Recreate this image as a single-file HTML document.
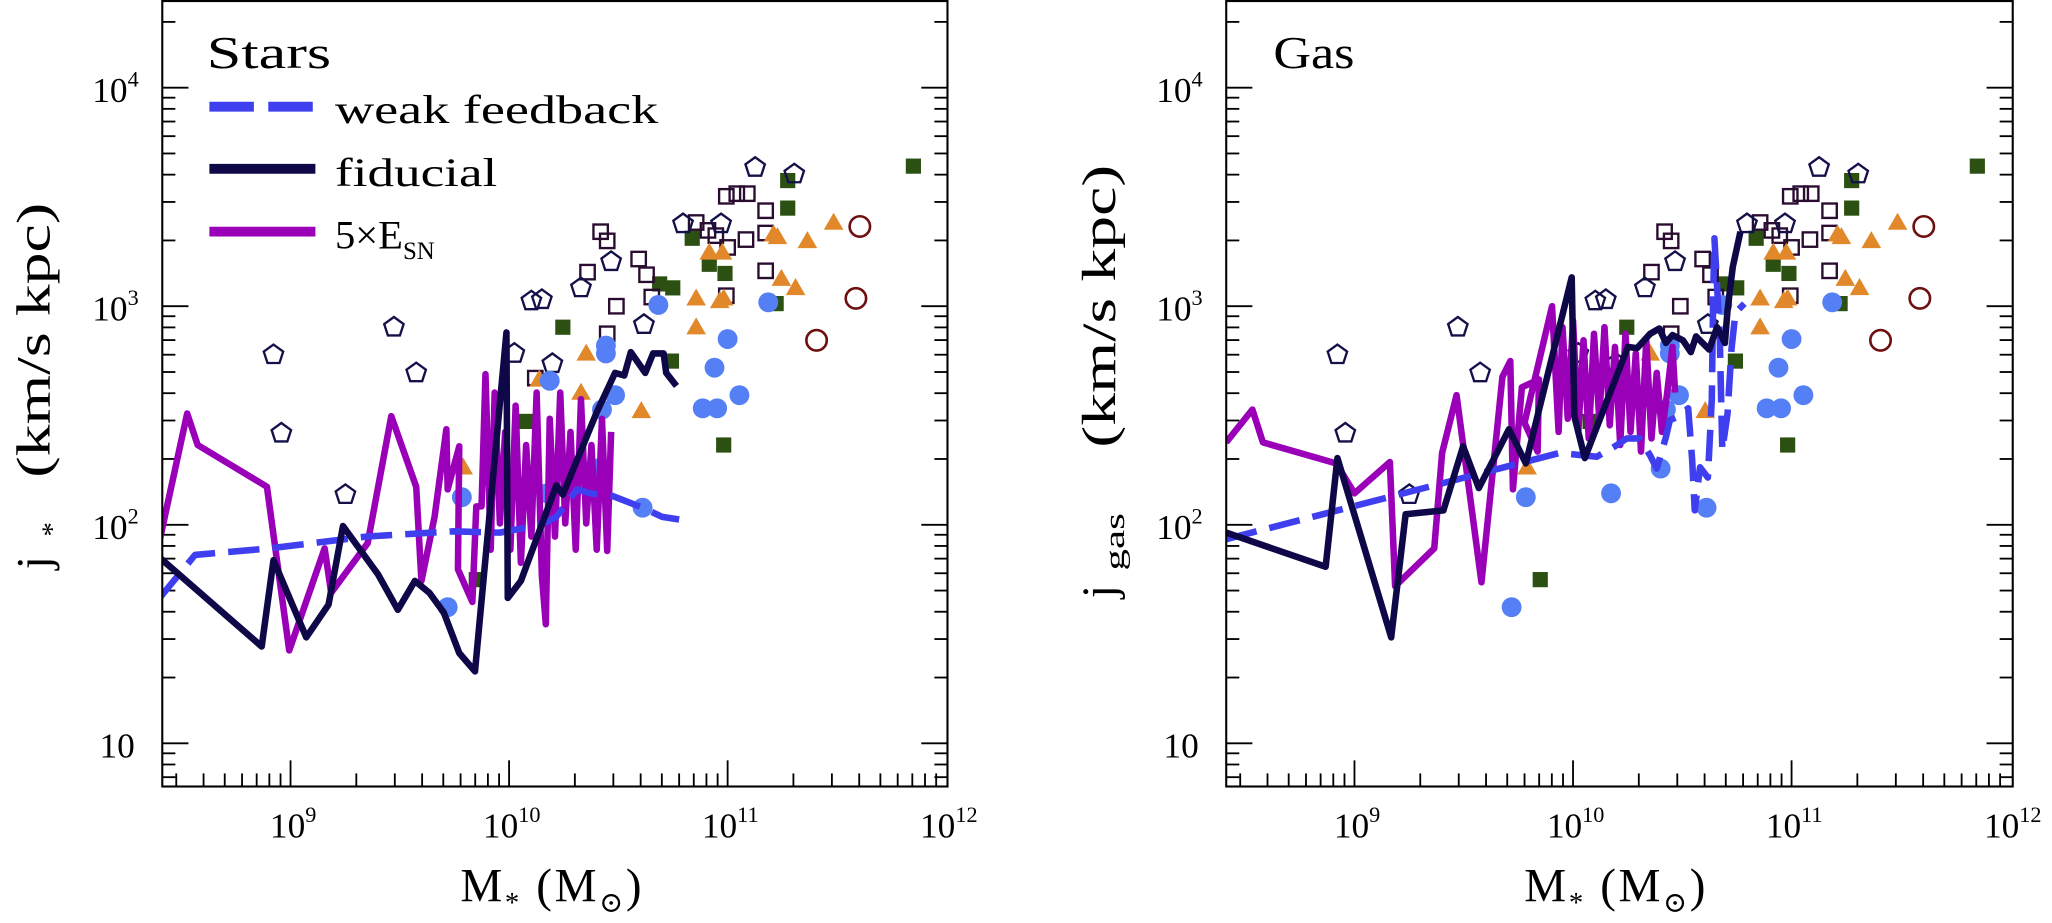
<!DOCTYPE html>
<html><head><meta charset="utf-8"><style>
html,body{margin:0;padding:0;background:#fff;}
svg{display:block;}
text{font-family:"Liberation Serif","DejaVu Serif",serif;fill:#000;}
</style></head><body>
<svg id="chart" xmlns="http://www.w3.org/2000/svg" width="2052" height="923" viewBox="0 0 1568 705.3">
<defs>
<clipPath id="clipL"><rect x="124" y="0" width="600" height="601"/></clipPath>
<clipPath id="clipR"><rect x="937" y="0" width="601" height="601"/></clipPath>
</defs>
<g id="axes"></g>
<g id="marks"></g>
<rect x="124" y="0.8" width="600" height="600.2" fill="none" stroke="#000" stroke-width="1.6"/>
<rect x="937" y="0.8" width="601" height="600.2" fill="none" stroke="#000" stroke-width="1.6"/>
<g>
<text x="158" y="52" font-size="35" textLength="95" lengthAdjust="spacingAndGlyphs">Stars</text>
<line x1="160" y1="81.5" x2="241" y2="81.5" stroke="#3f3ff0" stroke-width="7.5" stroke-dasharray="34 11"/>
<text x="256" y="94" font-size="31" textLength="247" lengthAdjust="spacingAndGlyphs">weak feedback</text>
<line x1="160" y1="129" x2="241" y2="129" stroke="#0e0848" stroke-width="7.5"/>
<text x="256" y="142" font-size="31" textLength="124" lengthAdjust="spacingAndGlyphs">fiducial</text>
<line x1="160" y1="177" x2="241" y2="177" stroke="#9a00b8" stroke-width="7.5"/>
<text x="256" y="190" font-size="31">5×E<tspan font-size="19" dy="8">SN</tspan></text>
</g>
<text x="973" y="52" font-size="35" textLength="62" lengthAdjust="spacingAndGlyphs">Gas</text>
<g>
<text x="38" y="435" font-size="36" transform="rotate(-90 38 435)">j</text>
<text x="47" y="410" font-size="22" transform="rotate(-90 47 410)">*</text>
<text x="38" y="365" font-size="36" font-weight="normal" transform="rotate(-90 38 365)" textLength="210" lengthAdjust="spacingAndGlyphs">(km/s kpc)</text>
</g>
<g>
<text x="852" y="457" font-size="36" transform="rotate(-90 852 457)">j</text>
<text x="859" y="436" font-size="22" transform="rotate(-90 859 436)" textLength="44" lengthAdjust="spacingAndGlyphs">gas</text>
<text x="852" y="342" font-size="36" font-weight="normal" transform="rotate(-90 852 342)" textLength="216" lengthAdjust="spacingAndGlyphs">(km/s kpc)</text>
</g>
<text x="422" y="689" font-size="36" text-anchor="middle" letter-spacing="2">M<tspan font-size="22" dy="8">*</tspan><tspan dy="-8"> (M</tspan><tspan font-size="22" dy="8">⊙</tspan><tspan dy="-8">)</tspan></text>
<text x="1235" y="689" font-size="36" text-anchor="middle" letter-spacing="2">M<tspan font-size="22" dy="8">*</tspan><tspan dy="-8"> (M</tspan><tspan font-size="22" dy="8">⊙</tspan><tspan dy="-8">)</tspan></text>
</svg>
<script>
// ---- axis data ----
const xTickExps = [9, 10, 11, 12];
const yTickExps = [1, 2, 3, 4];
// ---- observational data (log10 M*, log10 j) ----
const pentLogM = [10.102,10.150,10.329,10.467,10.796,10.970,11.126,11.305,10.617,10.024,10.198,8.922,8.958,9.473,9.575,9.251];
const pentLogJ = [3.030,3.036,3.090,3.210,3.383,3.383,3.641,3.611,2.922,2.790,2.743,2.784,2.425,2.910,2.701,2.144];
const openSqLogM = [10.419,10.449,10.359,10.593,10.629,10.653,10.491,10.449,10.120,10.856,10.910,10.946,11.000,11.084,10.994,11.042,11.090,11.174,11.174,11.174,10.994];
const openSqLogJ = [3.341,3.299,3.156,3.216,3.144,3.042,3.000,2.874,2.671,3.383,3.347,3.323,3.269,3.305,3.503,3.515,3.515,3.437,3.335,3.162,3.048];
const greenLogM = [11.850,11.275,11.275,10.838,10.916,10.988,10.689,10.749,10.246,10.743,10.982,11.222,10.078,9.850];
const greenLogJ = [3.641,3.575,3.449,3.311,3.192,3.150,3.102,3.084,2.904,2.749,2.365,3.012,2.473,1.749];
const triLogM = [11.485,11.210,11.228,11.365,10.916,10.976,11.246,11.311,10.856,10.964,10.982,10.856,10.353,10.605,10.329,10.138,9.790];
const triLogJ = [3.383,3.329,3.317,3.299,3.246,3.246,3.126,3.084,3.036,3.024,3.036,2.904,2.784,2.521,2.605,2.665,2.263];
const redLogM = [11.605,11.587,11.407];
const redLogJ = [3.365,3.036,2.844];
const blueLogM = [10.683,11.186,11.000,10.443,10.443,10.940,10.186,10.485,11.054,10.886,10.952,10.425,10.401,10.174,10.611,9.784,9.719];
const blueLogJ = [3.006,3.018,2.850,2.820,2.784,2.719,2.659,2.593,2.593,2.533,2.533,2.527,2.257,2.144,2.078,2.126,1.623];
// ---- simulation tracks: stars ----
const starsWeakLogM = [8.401,8.563,8.904,9.347,9.743,9.958,10.144,10.216,10.311,10.371,10.473,10.611,10.701,10.778];
const starsWeakLogJ = [1.665,1.862,1.892,1.946,1.970,1.964,2.000,2.036,2.162,2.144,2.132,2.078,2.036,2.024];
const starsFidLogM = [8.401,8.868,8.922,9.072,9.174,9.240,9.401,9.491,9.569,9.635,9.701,9.772,9.844,9.988,9.994,10.054,10.216,10.246,10.401,10.485,10.527,10.557,10.623,10.659,10.707,10.719,10.766];
const starsFidLogJ = [1.850,1.443,1.838,1.485,1.635,1.994,1.772,1.611,1.743,1.689,1.599,1.413,1.329,2.880,1.665,1.743,2.180,2.138,2.515,2.695,2.683,2.790,2.695,2.784,2.784,2.695,2.635];
const starsEsnLogM = [8.401,8.527,8.575,8.892,8.994,9.156,9.186,9.353,9.461,9.575,9.599,9.659,9.713,9.719,9.772,9.766,9.832,9.850,9.874,9.892,9.916,9.934,9.958,9.982,10.006,10.030,10.054,10.078,10.102,10.126,10.150,10.168,10.186,10.210,10.234,10.257,10.281,10.305,10.329,10.353,10.377,10.401,10.425,10.449,10.467];
const starsEsnLogJ = [1.928,2.509,2.365,2.174,1.425,1.892,1.689,1.916,2.497,2.174,1.743,2.036,2.437,2.162,2.359,1.796,1.647,2.084,2.084,2.689,1.886,2.605,2.006,2.425,1.886,2.545,1.826,2.365,1.946,2.605,1.766,1.545,2.485,1.946,2.605,2.006,2.425,1.886,2.575,2.006,2.365,1.886,2.485,1.880,2.425];
// ---- simulation tracks: gas ----
const gasWeakLogM = [8.413,9.940,10.108,10.192,10.246,10.305,10.353,10.383,10.425,10.443,10.485,10.527,10.545,10.557,10.581,10.617,10.635,10.641,10.647,10.671,10.683,10.707,10.725,10.743,10.784];
const gasWeakLogJ = [1.934,2.329,2.311,2.359,2.395,2.395,2.317,2.257,2.401,2.479,2.497,2.533,2.299,2.066,2.263,2.216,2.575,3.030,3.311,2.880,2.341,2.509,2.802,2.970,3.012];
const gasFidLogM = [8.413,8.868,8.922,9.168,9.234,9.407,9.497,9.569,9.707,9.784,9.994,10.006,10.054,10.251,10.293,10.353,10.395,10.425,10.455,10.503,10.539,10.563,10.623,10.659,10.695,10.707,10.731,10.766];
const gasFidLogJ = [1.964,1.808,2.305,1.485,2.048,2.066,2.359,2.168,2.437,2.281,3.132,2.497,2.305,2.814,2.808,2.874,2.898,2.832,2.868,2.844,2.790,2.862,2.802,2.904,2.832,2.982,3.180,3.341];
const gasEsnLogM = [8.413,8.533,8.581,8.916,9.000,9.162,9.186,9.365,9.401,9.467,9.581,9.677,9.713,9.725,9.766,9.844,9.838,9.778,9.904,9.934,9.952,9.976,10.000,10.024,10.048,10.072,10.096,10.120,10.144,10.168,10.192,10.216,10.240,10.263,10.287,10.311,10.335,10.359,10.383,10.407,10.431,10.455,10.467];
const gasEsnLogJ = [2.377,2.527,2.377,2.281,2.144,2.287,1.719,1.892,2.329,2.593,1.737,2.677,2.749,2.162,2.629,2.665,2.335,2.467,3.000,2.425,2.904,2.485,2.934,2.425,2.844,2.395,2.874,2.485,2.904,2.455,2.814,2.365,2.874,2.425,2.784,2.335,2.844,2.395,2.695,2.425,2.605,2.814,2.605];

const NS = 'http://www.w3.org/2000/svg';
const X0 = 124, X1 = 724, Y0 = 0, Y1 = 601;
function xPos(lm, ox) { return ox + 222 + 167 * (lm - 9); }
function yPos(lj) { return 568 - 167 * (lj - 1); }
function make(tag, parent) { const e = document.createElementNS(NS, tag); parent.appendChild(e); return e; }

const axes = document.getElementById('axes');
const marks = document.getElementById('marks');
const panels = [{ ox: 0, clip: 'clipL', key: 'stars' }, { ox: 813, clip: 'clipR', key: 'gas' }];

panels.forEach(p => {
  const ox = p.ox;
  for (let d = 0; d <= 4; d++) {
    for (let m = 1; m <= 9; m++) {
      const lj = d + Math.log10(m);
      const y = yPos(lj);
      if (y < 2 || y > 600) continue;
      const len = m === 1 ? 20 : 10;
      const t1 = make('line', axes);
      
      
      t1.setAttribute('x1', X0 + ox); t1.setAttribute('x2', X0 + ox + len);
      t1.setAttribute('y1', y); t1.setAttribute('y2', y);
      t1.setAttribute('stroke', '#000'); t1.setAttribute('stroke-width', '1.4');
      const t2 = make('line', axes);
      
      
      t2.setAttribute('x1', X1 + ox + (ox ? 1 : 0)); t2.setAttribute('x2', X1 + ox + (ox ? 1 : 0) - len);
      t2.setAttribute('y1', y); t2.setAttribute('y2', y);
      t2.setAttribute('stroke', '#000'); t2.setAttribute('stroke-width', '1.4');
    }
  }
  for (let d = 8; d <= 11; d++) {
    for (let m = 1; m <= 9; m++) {
      const lm = d + Math.log10(m);
      const x = xPos(lm, ox);
      if (x < X0 + ox + 2 || x > X1 + ox) continue;
      const len = m === 1 ? 20 : 10;
      const t = make('line', axes);
      
      
      t.setAttribute('x1', x); t.setAttribute('x2', x);
      t.setAttribute('y1', Y1); t.setAttribute('y2', Y1 - len);
      t.setAttribute('stroke', '#000'); t.setAttribute('stroke-width', '1.4');
    }
  }
  yTickExps.forEach(e => {
    const tx = make('text', axes);
    
    
    tx.setAttribute('x', ox + (e === 1 ? 103 : 106));
    tx.setAttribute('y', yPos(e) + 11);
    tx.setAttribute('font-size', '27');
    tx.setAttribute('text-anchor', 'end');
    if (e === 1) { tx.textContent = '10'; }
    else {
      const a = make('tspan', tx); a.textContent = '10';
      const b = make('tspan', tx); b.textContent = String(e);
      b.setAttribute('font-size', '17'); b.setAttribute('dy', '-12');
    }
  });
  xTickExps.forEach(e => {
    const tx = make('text', axes);
    
    
    tx.setAttribute('x', xPos(e, ox) + 2);
    tx.setAttribute('y', 640);
    tx.setAttribute('font-size', '27');
    tx.setAttribute('text-anchor', 'middle');
    const a = make('tspan', tx); a.textContent = '10';
    const b = make('tspan', tx); b.textContent = String(e);
    b.setAttribute('font-size', '17'); b.setAttribute('dy', '-12');
  });

  const g = make('g', marks);
  g.setAttribute('clip-path', 'url(#' + p.clip + ')');
  
  

  greenLogM.forEach((lm, i) => {
    const x = xPos(lm, ox), y = yPos(greenLogJ[i]);
    const r = make('rect', g);
    
    
    r.setAttribute('x', x - 5.8); r.setAttribute('y', y - 5.8);
    r.setAttribute('width', 11.6); r.setAttribute('height', 11.6);
    r.setAttribute('fill', '#2b5012');
  });
  openSqLogM.forEach((lm, i) => {
    const x = xPos(lm, ox), y = yPos(openSqLogJ[i]);
    const r = make('rect', g);
    
    
    r.setAttribute('x', x - 5.5); r.setAttribute('y', y - 5.5);
    r.setAttribute('width', 11); r.setAttribute('height', 11);
    r.setAttribute('fill', 'none'); r.setAttribute('stroke', '#2a0c30'); r.setAttribute('stroke-width', '1.8');
  });
  pentLogM.forEach((lm, i) => {
    const x = xPos(lm, ox), y = yPos(pentLogJ[i]);
    const pts = [];
    for (let k = 0; k < 5; k++) {
      const a = (-90 + 72 * k) * Math.PI / 180;
      pts.push((x + 7.8 * Math.cos(a)).toFixed(2) + ',' + (y + 1 + 7.8 * Math.sin(a)).toFixed(2));
    }
    const pg = make('polygon', g);
    
    
    pg.setAttribute('points', pts.join(' '));
    pg.setAttribute('fill', 'none'); pg.setAttribute('stroke', '#14104a'); pg.setAttribute('stroke-width', '1.8');
  });
  triLogM.forEach((lm, i) => {
    const x = xPos(lm, ox), y = yPos(triLogJ[i]);
    const pg = make('polygon', g);
    
    
    pg.setAttribute('points', x + ',' + (y - 7.5) + ' ' + (x + 7.5) + ',' + (y + 5.5) + ' ' + (x - 7.5) + ',' + (y + 5.5));
    pg.setAttribute('fill', '#e0882a');
  });
  redLogM.forEach((lm, i) => {
    const c = make('circle', g);
    
    
    c.setAttribute('cx', xPos(lm, ox)); c.setAttribute('cy', yPos(redLogJ[i]));
    c.setAttribute('r', 7.8);
    c.setAttribute('fill', 'none'); c.setAttribute('stroke', '#6e1010'); c.setAttribute('stroke-width', '2');
  });
  blueLogM.forEach((lm, i) => {
    const c = make('circle', g);
    
    
    c.setAttribute('cx', xPos(lm, ox)); c.setAttribute('cy', yPos(blueLogJ[i]));
    c.setAttribute('r', 7.6);
    c.setAttribute('fill', '#5580f5');
  });

  function track(lms, ljs, color, dash, width, name) {
    const pts = lms.map((lm, i) => xPos(lm, ox).toFixed(2) + ',' + yPos(ljs[i]).toFixed(2));
    const pl = make('polyline', g);
    
    
    pl.setAttribute('points', pts.join(' '));
    pl.setAttribute('fill', 'none');
    pl.setAttribute('stroke', color);
    pl.setAttribute('stroke-width', width);
    pl.setAttribute('stroke-linejoin', 'round');
    if (dash) pl.setAttribute('stroke-dasharray', dash);
  }
  if (p.key === 'stars') {
    track(starsEsnLogM, starsEsnLogJ, '#9a00b8', null, 5, 'stars-5xesn-line');
    track(starsWeakLogM, starsWeakLogJ, '#3f3ff0', '24 10', 5, 'stars-weak-feedback-line');
    track(starsFidLogM, starsFidLogJ, '#0e0848', null, 5, 'stars-fiducial-line');
  } else {
    track(gasEsnLogM, gasEsnLogJ, '#9a00b8', null, 5, 'gas-5xesn-line');
    track(gasWeakLogM, gasWeakLogJ, '#3f3ff0', '24 10', 5, 'gas-weak-feedback-line');
    track(gasFidLogM, gasFidLogJ, '#0e0848', null, 5, 'gas-fiducial-line');
  }
});
</script>
</body></html>
